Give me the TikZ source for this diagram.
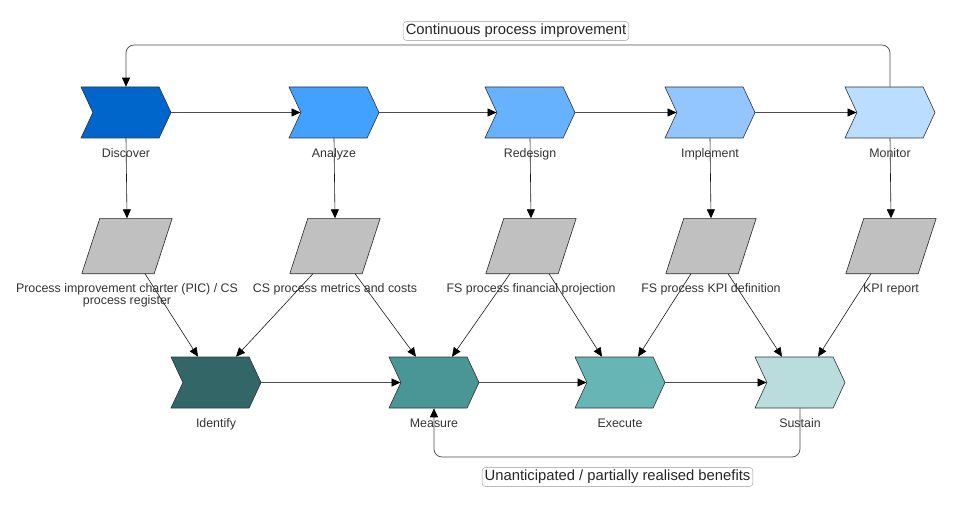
\documentclass[tikz,border=0pt]{standalone}
\usepackage{fontspec}
\setmainfont{Liberation Sans}
\usepackage{xcolor}
\usetikzlibrary{positioning, arrows.meta, shapes.symbols}
\definecolor{discol}{HTML}{0066CC}
\definecolor{anacol}{HTML}{42A0FF}
\definecolor{redcol}{HTML}{66B2FF}
\definecolor{impcol}{HTML}{93C6FF}
\definecolor{moncol}{HTML}{BBDDFF}
\definecolor{idfcol}{HTML}{336666}
\definecolor{meacol}{HTML}{4A9696}
\definecolor{execol}{HTML}{67B5B5}
\definecolor{suscol}{HTML}{B9DCDD}
\definecolor{docgray}{HTML}{C0C0C0}

\begin{document}
\begin{tikzpicture}[x=1pt, y=-1pt,
  stepchev/.style={signal, signal from=west, signal to=east, signal pointer angle=130,
    minimum width=90pt, minimum height=51pt, inner sep=0pt, draw=black!80, line width=0.6pt},
  docbox/.style={rectangle, minimum width=90pt, minimum height=55pt, inner sep=0pt},
  docshape/.style={draw=black!85, fill=docgray, line width=0.6pt, line join=round},
  lbl/.style={font=\fontsize{12.4}{12}\selectfont, text=black!80, inner sep=1pt, align=center},
  loopbox/.style={draw=black!40, rounded corners=3pt, fill=white, text=black!85,
    font=\fontsize{14.8}{14.8}\selectfont, inner sep=2.5pt},
  flow/.style={draw=black!70, line width=0.75pt, -{Triangle[length=9pt,width=8pt,color=black]}},
  feed/.style={draw=black!90, line width=0.6pt, -{Triangle[length=9pt,width=8pt,color=black]}},
]
\useasboundingbox (0,0) rectangle (956,508);

% top row
\node[stepchev, fill=discol] (dis) at (126,112.5) {};
\node[stepchev, fill=anacol] (ana) at (334,112.5) {};
\node[stepchev, fill=redcol] (red) at (530,112.5) {};
\node[stepchev, fill=impcol] (imp) at (710,112.5) {};
\node[stepchev, fill=moncol] (mon) at (890,112.5) {};
\node[lbl, below=9.5pt of dis] (dislbl) {Discover};
\node[lbl, below=9.5pt of ana] (analbl) {Analyze};
\node[lbl, below=9.5pt of red] (redlbl) {Redesign};
\node[lbl, below=9.5pt of imp] (implbl) {Implement};
\node[lbl, below=9.5pt of mon] (monlbl) {Monitor};

% documents
\node[docbox] (disdoc) at (127,246) {};
\node[docbox] (anadoc) at (335,246) {};
\node[docbox] (reddoc) at (531,246) {};
\node[docbox] (impdoc) at (711,246) {};
\node[docbox] (mondoc) at (891,246) {};
\foreach \d in {disdoc, anadoc, reddoc, impdoc, mondoc}
  \draw[docshape] (\d.south west) -- ([xshift=-18pt]\d.south east)
    -- (\d.north east) -- ([xshift=18pt]\d.north west) -- cycle;
\node[lbl, below=9pt of disdoc] (disdoclbl) {Process improvement charter (PIC) / CS\\process register};
\node[lbl, below=9pt of anadoc] (anadoclbl) {CS process metrics and costs};
\node[lbl, below=9pt of reddoc] (reddoclbl) {FS process financial projection};
\node[lbl, below=9pt of impdoc] (impdoclbl) {FS process KPI definition};
\node[lbl, below=9pt of mondoc] (mondoclbl) {KPI report};

% bottom row
\node[stepchev, fill=idfcol] (idf) at (216,382.5) {};
\node[stepchev, fill=meacol] (mea) at (434,382.5) {};
\node[stepchev, fill=execol] (exe) at (620,382.5) {};
\node[stepchev, fill=suscol] (sus) at (800,382.5) {};
\node[lbl, below=9.5pt of idf] (idflbl) {Identify};
\node[lbl, below=9.5pt of mea] (mealbl) {Measure};
\node[lbl, below=9.5pt of exe] (exelbl) {Execute};
\node[lbl, below=9.5pt of sus] (suslbl) {Sustain};

% loop labels
\coordinate (toprail) at (0,45);
\coordinate (botrail) at (0,457);
\node[loopbox] (cpi) at (516,31) {Continuous process improvement};
\node[loopbox] (upb) at (617.5,477) {Unanticipated / partially realised benefits};

% connectors
\draw[flow] (dis.east) -- (ana.west);
\draw[flow] (ana.east) -- (red.west);
\draw[flow] (red.east) -- (imp.west);
\draw[flow] (imp.east) -- (mon.west);
\draw[flow] (idf.east) -- (mea.west);
\draw[flow] (mea.east) -- (exe.west);
\draw[flow] (exe.east) -- (sus.west);
\foreach \s in {dis, ana, red, imp, mon}
  \draw[feed] (\s.south) -- (\s doc.north);
\draw[feed] ([xshift=18pt]disdoc.south) -- ([xshift=-18pt]idf.north);
\draw[feed] ([xshift=-22pt]anadoc.south) -- ([xshift=20pt]idf.north);
\draw[feed] ([xshift=20pt]anadoc.south) -- ([xshift=-18pt]mea.north);
\draw[feed] ([xshift=-21pt]reddoc.south) -- ([xshift=18pt]mea.north);
\draw[feed] ([xshift=18pt]reddoc.south) -- ([xshift=-18pt]exe.north);
\draw[feed] ([xshift=-20pt]impdoc.south) -- ([xshift=18pt]exe.north);
\draw[feed] ([xshift=17pt]impdoc.south) -- ([xshift=-18pt]sus.north);
\draw[feed] ([xshift=-20pt]mondoc.south) -- ([xshift=18pt]sus.north);
\draw[flow, rounded corners=8pt] (mon.north) -- (mon.north |- toprail)
  -- (dis.north |- toprail) -- (dis.north);
\draw[flow, rounded corners=8pt] (sus.south) -- (sus.south |- botrail)
  -- (mea.south |- botrail) -- (mea.south);
\end{tikzpicture}
\end{document}
